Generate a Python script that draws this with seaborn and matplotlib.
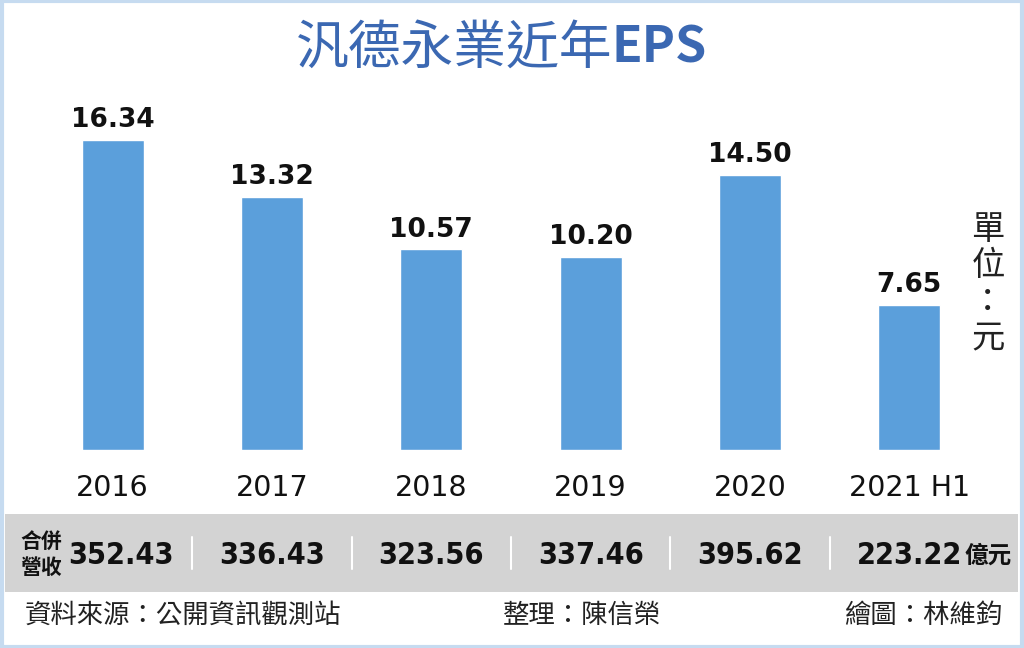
import matplotlib
matplotlib.use('Agg')
import matplotlib.pyplot as plt
import matplotlib.transforms as mtransforms
from matplotlib.patches import Rectangle
import seaborn as sns

sns.set_style('white')
plt.rcParams['font.family'] = ['DejaVu Sans', 'Noto Sans CJK TC']

years = ['2016', '2017', '2018', '2019', '2020', '2021 H1']
eps = [16.34, 13.32, 10.57, 10.20, 14.50, 7.65]
revenue = ['352.43', '336.43', '323.56', '337.46', '395.62', '223.22']

title_cjk = '汎德永業近年'
title_lat = 'EPS'
unit = '單\n位\n：\n元'
rev_label = '合併\n營收'
rev_unit = '億元'
src = '資料來源：公開資訊觀測站'
editor = '整理：陳信榮'
drawer = '繪圖：林維鈞'

cjk = ['Noto Sans CJK TC', 'DejaVu Sans']
narrow = ['Liberation Sans Narrow', 'DejaVu Sans Condensed', 'DejaVu Sans']
bar_color = '#5b9fdb'
title_color = '#3b68b2'

fig = plt.figure(figsize=(10.24, 6.48), dpi=100)
ax = fig.add_axes([33 / 1024, 1 - 450 / 648, 956 / 1024, 350 / 648])

sns.barplot(x=years, y=eps, color=bar_color, saturation=1, width=0.39, ax=ax)
ax.set_xlim(-0.5, 5.5)
ax.set_ylim(0, 350 / 18.97)
ax.bar_label(ax.containers[0], fmt='%.2f', padding=5, fontsize=19, fontweight='bold', color='#111111')
ax.set_yticks([])
ax.set_xlabel('')
ax.set_ylabel('')
ax.tick_params(axis='x', length=0, pad=17, labelsize=20.5, labelcolor='#111111')
for s in ax.spines.values():
    s.set_visible(False)

# title and unit
fig.text(612 / 1024, 1 - 48 / 648, title_cjk, ha='right', va='center', fontsize=38,
         color=title_color, fontweight='medium', family=cjk)
fig.text(612 / 1024, 1 - 48 / 648, title_lat, ha='left', va='center', fontsize=36,
         color=title_color, fontweight='bold', family=cjk)
fig.text(988 / 1024, 1 - 284 / 648, unit, ha='center', va='center', fontsize=24,
         color='#222222', family=cjk, linespacing=1.04)

# revenue band
fig.add_artist(Rectangle((5 / 1024, 1 - 592 / 648), 1013 / 1024, 78 / 648,
                         transform=fig.transFigure, facecolor='#d3d3d3', edgecolor='none'))
blend = mtransforms.blended_transform_factory(ax.transData, fig.transFigure)
for i, r in enumerate(revenue):
    xoff = 0.05 if i == 0 else 0
    fig.text(i + xoff, 1 - 556 / 648, r, transform=blend, ha='center', va='center',
             fontsize=22, fontweight='bold', family=narrow, fontstretch='condensed',
             color='#111111')
for i in range(len(revenue) - 1):
    fig.add_artist(plt.Line2D([i + 0.5, i + 0.5], [1 - 537 / 648, 1 - 569 / 648],
                              transform=blend, color='white', lw=1.5))
fig.text(41 / 1024, 1 - 555 / 648, rev_label, ha='center', va='center', fontsize=15,
         fontweight='bold', family=cjk, linespacing=1.25, color='#111111')
fig.text(965 / 1024, 1 - 556 / 648, rev_unit, ha='left', va='center', fontsize=17,
         fontweight='bold', family=cjk, color='#111111')

# footer
fig.text(25 / 1024, 1 - 615 / 648, src, ha='left', va='center', fontsize=19, family=cjk, color='#222222')
fig.text(503 / 1024, 1 - 615 / 648, editor, ha='left', va='center', fontsize=19, family=cjk, color='#222222')
fig.text(1002 / 1024, 1 - 615 / 648, drawer, ha='right', va='center', fontsize=19, family=cjk, color='#222222')

# frame
fig.add_artist(Rectangle((0.0015, 0.002), 0.997, 0.996, transform=fig.transFigure,
                         facecolor='none', edgecolor='#c6dbf0', lw=3))

fig.savefig('out.png', dpi=100)
